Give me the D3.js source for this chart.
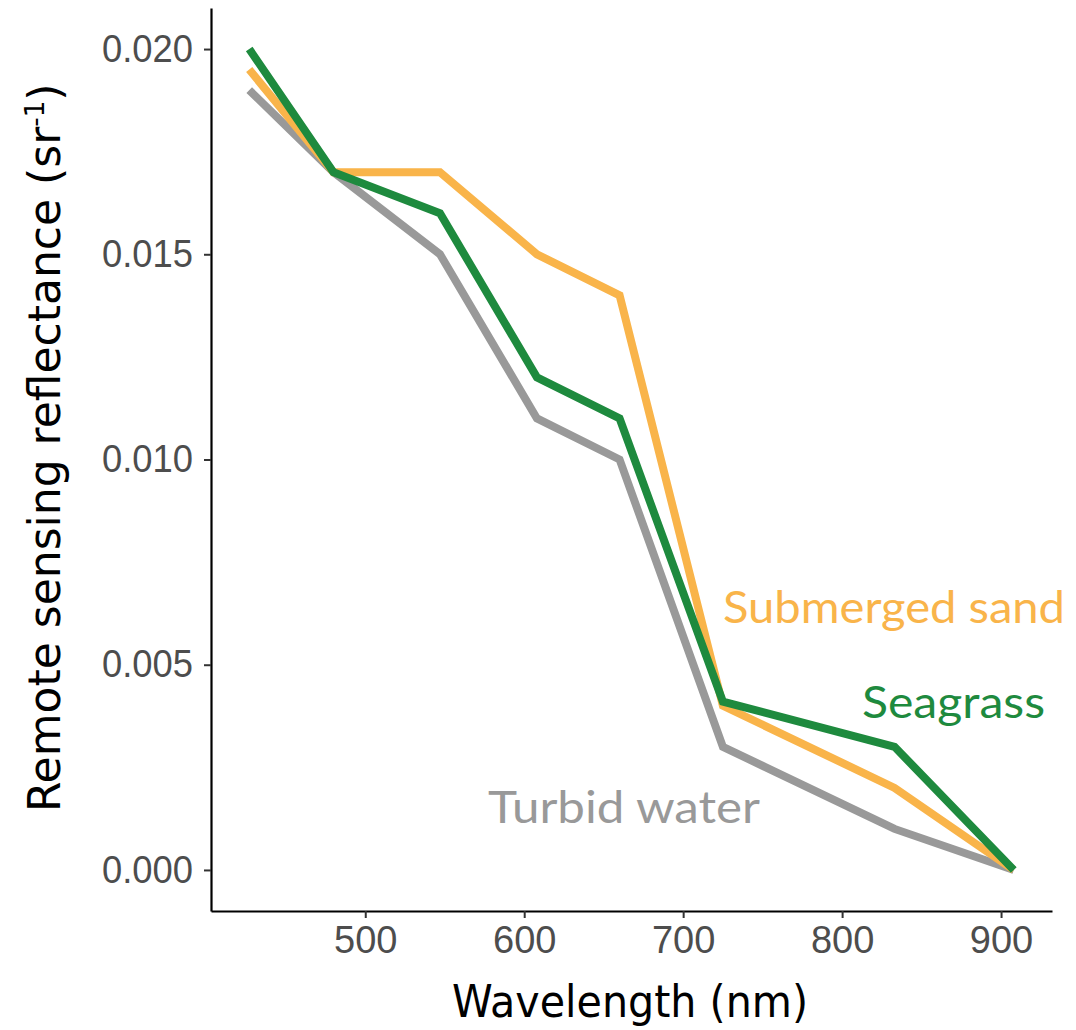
<!DOCTYPE html>
<html>
<head>
<meta charset="utf-8">
<script src="https://cdn.jsdelivr.net/npm/d3@7"></script>
<style>
  html, body { margin: 0; padding: 0; background: #fff; }
  svg { display: block; }
</style>
</head>
<body>
<svg id="chart" width="1076" height="1030"></svg>
<script>
// ---- data ----
const wavelengths = [427, 480, 547, 608, 660, 725, 833, 908];
const seagrass    = [0.0200, 0.0170, 0.0160, 0.0120, 0.0110, 0.0041, 0.0030, 0.0000];
const sand        = [0.0195, 0.0170, 0.0170, 0.0150, 0.0140, 0.0040, 0.0020, 0.0000];
const turbid      = [0.0190, 0.0170, 0.0150, 0.0110, 0.0100, 0.0030, 0.0010, 0.0000];
const xTicks = [500, 600, 700, 800, 900];
const yTicks = [0.000, 0.005, 0.010, 0.015, 0.020];
const seriesNames = ["Turbid water", "Submerged sand", "Seagrass"];

const series = [
  { name: seriesNames[0], values: turbid,   color: "#999999", label: [488, 823, 272] },
  { name: seriesNames[1], values: sand,     color: "#f9b44a", label: [723, 623, 342] },
  { name: seriesNames[2], values: seagrass, color: "#1e8a3e", label: [862, 718, 183] }
];

const svg = d3.select("#chart");
const mLeft = 211, mRight = 1052, mTop = 8, mBottom = 911;

const x = d3.scaleLinear().domain([402.95, 932.05]).range([mLeft, mRight]);
const y = d3.scaleLinear().domain([-0.001, 0.021]).range([mBottom, mTop]);

// axes
const xAxis = d3.axisBottom(x).tickValues(xTicks).tickSizeInner(7).tickSizeOuter(0).tickPadding(8).tickFormat(d3.format("d"));
const yAxis = d3.axisLeft(y).tickValues(yTicks).tickSizeInner(7).tickSizeOuter(0).tickPadding(11).tickFormat(d3.format(".3f"));

const gx = svg.append("g").attr("transform", `translate(0,${mBottom})`).call(xAxis);
const gy = svg.append("g").attr("transform", `translate(${mLeft},0)`).call(yAxis);

[gx, gy].forEach(g => {
  g.select(".domain").attr("stroke", "#000").attr("stroke-width", 2.2);
  g.selectAll(".tick line").attr("stroke", "#333").attr("stroke-width", 2);
  g.selectAll(".tick text")
    .attr("fill", "#4d4d4d")
    .style("font-family", "'Liberation Sans', Arial, sans-serif")
    .style("font-size", "38px");
});
gx.selectAll(".tick text").attr("dy", "0.71em");
gy.selectAll(".tick text").attr("textLength", 91).attr("lengthAdjust", "spacingAndGlyphs");

// lines
const line = d3.line()
  .x((d, i) => x(wavelengths[i]))
  .y(d => y(d));

series.forEach(s => {
  svg.append("path")
    .datum(s.values)
    .attr("fill", "none")
    .attr("stroke", s.color)
    .attr("stroke-width", 8)
    .attr("stroke-linejoin", "miter")
    .attr("d", line);
});

// series labels
series.forEach(s => {
  svg.append("text")
    .attr("x", s.label[0])
    .attr("y", s.label[1])
    .attr("textLength", s.label[2])
    .attr("lengthAdjust", "spacingAndGlyphs")
    .attr("fill", s.color)
    .style("font-family", "Lato, 'DejaVu Sans', sans-serif")
    .style("font-size", "44px")
    .text(s.name);
});

// axis titles
svg.append("text")
  .attr("x", 452)
  .attr("y", 1017)
  .attr("textLength", 356)
  .attr("lengthAdjust", "spacingAndGlyphs")
  .style("font-family", "'DejaVu Sans', sans-serif")
  .style("font-size", "44px")
  .attr("fill", "#000")
  .text("Wavelength (nm)");

const yt = svg.append("text")
  .attr("transform", "translate(60,812) rotate(-90)")
  .style("font-family", "'DejaVu Sans', sans-serif")
  .style("font-size", "44px")
  .attr("fill", "#000");
yt.append("tspan").text("Remote sensing reflectance (sr");
yt.append("tspan").attr("dy", -16).style("font-size", "26px").text("-1");
yt.append("tspan").attr("dy", 16).text(")");
</script>
</body>
</html>
